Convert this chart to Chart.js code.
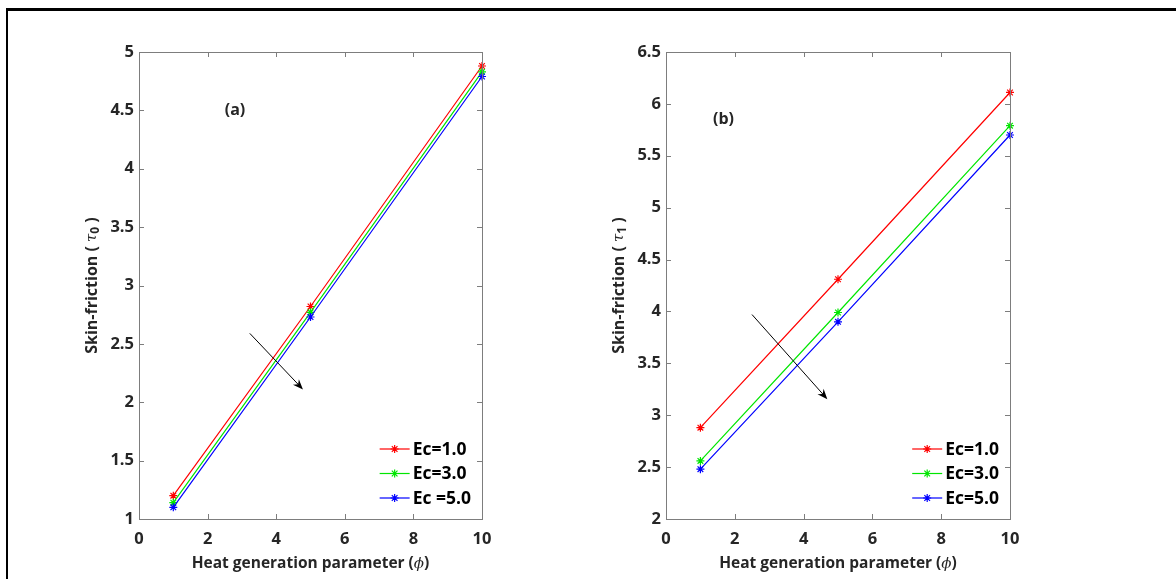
<!DOCTYPE html>
<html>
<head>
<meta charset="utf-8">
<script src="https://cdn.jsdelivr.net/npm/chart.js@4.4.1/dist/chart.umd.min.js"></script>
<style>
html, body { margin: 0; padding: 0; background: #fff; overflow: hidden; }
#frame { position: absolute; left: 6px; top: 8px; width: 2000px; height: 2000px; border-left: 2px solid #000; border-top: 3px solid #000; }
#chartA { position: absolute; left: 0; top: 0; }
#chartB { position: absolute; left: 588px; top: 0; }
</style>
</head>
<body>
<div id="frame"></div>
<canvas id="chartA" width="588" height="579"></canvas>
<canvas id="chartB" width="588" height="579"></canvas>
<script>
// heat generation parameter (x values)
const phi = [1, 5, 10];
const xTicks = [0, 2, 4, 6, 8, 10];

// panel (a): skin-friction tau0
const labelsA = ['Ec=1.0', 'Ec=3.0', 'Ec =5.0'];
const tau0Ec1 = [1.20, 2.82, 4.88];
const tau0Ec3 = [1.14, 2.77, 4.83];
const tau0Ec5 = [1.10, 2.73, 4.79];

// panel (b): skin-friction tau1
const labelsB = ['Ec=1.0', 'Ec=3.0', 'Ec=5.0'];
const tau1Ec1 = [2.88, 4.31, 6.11];
const tau1Ec3 = [2.56, 3.99, 5.79];
const tau1Ec5 = [2.48, 3.90, 5.70];

const colors = ['#ff0000', '#00e600', '#0000ff'];
const FONT = '"Open Sans", "Noto Sans", sans-serif';
const AXIS = '#7d7d7d';
const TXT = '#262626';

function star(ctx, x, y, r) {
    ctx.beginPath();
    for (let i = 0; i < 4; i++) {
        const a = i * Math.PI / 4;
        ctx.moveTo(x - r * Math.cos(a), y - r * Math.sin(a));
        ctx.lineTo(x + r * Math.cos(a), y + r * Math.sin(a));
    }
    ctx.stroke();
}

// draw text made of pieces with different fonts, centred on x
function drawRich(ctx, parts, x, y) {
    let total = 0;
    parts.forEach(p => { ctx.font = p[1]; total += ctx.measureText(p[0]).width; });
    let cx = x - total / 2;
    ctx.textAlign = 'left';
    ctx.textBaseline = 'middle';
    parts.forEach(p => {
        ctx.font = p[1];
        ctx.fillText(p[0], cx, y + (p[2] || 0));
        cx += ctx.measureText(p[0]).width;
    });
}

const decor = {
    id: 'decor',
    afterDraw(chart, args, opts) {
        const {ctx, chartArea: ca, scales: {x, y}} = chart;
        ctx.save();

        // box with inward ticks
        ctx.strokeStyle = AXIS;
        ctx.lineWidth = 1;
        ctx.strokeRect(ca.left + 0.5, ca.top + 0.5, ca.right - ca.left, ca.bottom - ca.top);
        ctx.beginPath();
        x.ticks.forEach(t => {
            const px = Math.round(x.getPixelForValue(t.value)) + 0.5;
            ctx.moveTo(px, ca.bottom); ctx.lineTo(px, ca.bottom - 5);
            ctx.moveTo(px, ca.top); ctx.lineTo(px, ca.top + 5);
        });
        y.ticks.forEach(t => {
            const py = Math.round(y.getPixelForValue(t.value)) + 0.5;
            ctx.moveTo(ca.left, py); ctx.lineTo(ca.left + 5, py);
            ctx.moveTo(ca.right, py); ctx.lineTo(ca.right - 5, py);
        });
        ctx.stroke();

        // axis titles
        ctx.fillStyle = TXT;
        drawRich(ctx, [
            ['Heat generation parameter (', 'bold 15.5px ' + FONT],
            ['\u03D5', 'italic 15px "DejaVu Serif", serif'],
            [')', 'bold 15.5px ' + FONT]
        ], (ca.left + ca.right) / 2, 564);

        ctx.save();
        ctx.translate(ca.left - 47, (ca.top + ca.bottom) / 2);
        ctx.rotate(-Math.PI / 2);
        drawRich(ctx, [
            ['Skin-friction ( ', 'bold 16px ' + FONT],
            ['\u03C4', 'italic 15px "DejaVu Serif", serif'],
            [opts.sub, 'bold 12px ' + FONT, 4],
            [' )', 'bold 16px ' + FONT]
        ], 0, 0);
        ctx.restore();

        // panel label
        ctx.font = 'bold 16px ' + FONT;
        ctx.textAlign = 'center';
        ctx.textBaseline = 'middle';
        ctx.fillText(opts.tag.text, x.getPixelForValue(opts.tag.x), y.getPixelForValue(opts.tag.y));

        // arrow
        const [ax0, ay0, ax1, ay1] = opts.arrow;
        const x0 = x.getPixelForValue(ax0), y0 = y.getPixelForValue(ay0);
        const x1 = x.getPixelForValue(ax1), y1 = y.getPixelForValue(ay1);
        const ang = Math.atan2(y1 - y0, x1 - x0);
        ctx.strokeStyle = '#000';
        ctx.fillStyle = '#000';
        ctx.lineWidth = 1;
        ctx.beginPath();
        ctx.moveTo(x0, y0);
        ctx.lineTo(x1 - 6 * Math.cos(ang), y1 - 6 * Math.sin(ang));
        ctx.stroke();
        ctx.beginPath();
        ctx.moveTo(x1, y1);
        ctx.lineTo(x1 - 11 * Math.cos(ang - 0.38), y1 - 11 * Math.sin(ang - 0.38));
        ctx.lineTo(x1 - 7 * Math.cos(ang), y1 - 7 * Math.sin(ang));
        ctx.lineTo(x1 - 11 * Math.cos(ang + 0.38), y1 - 11 * Math.sin(ang + 0.38));
        ctx.closePath();
        ctx.fill();

        // legend inside the axes, bottom right
        ctx.font = 'bold 17.5px ' + FONT;
        const names = opts.names;
        const w = Math.max(...names.map(n => ctx.measureText(n).width));
        const tx = ca.right - 11 - w;
        names.forEach((n, i) => {
            const ly = ca.bottom - 70 + i * 24.5;
            const c = chart.data.datasets[i].borderColor;
            ctx.strokeStyle = c;
            ctx.lineWidth = 1.2;
            ctx.beginPath();
            ctx.moveTo(tx - 33, ly); ctx.lineTo(tx - 3, ly);
            ctx.stroke();
            star(ctx, tx - 18, ly, 4);
            ctx.fillStyle = '#000';
            ctx.textAlign = 'left';
            ctx.textBaseline = 'middle';
            ctx.fillText(n, tx, ly + 1);
        });
        ctx.restore();
    }
};

function makeChart(id, series, names, yMin, yMax, yWidth, padRight, extra) {
    return new Chart(document.getElementById(id), {
        type: 'line',
        data: {
            datasets: series.map((s, i) => ({
                label: names[i],
                data: phi.map((p, j) => ({x: p, y: s[j]})),
                borderColor: colors[i],
                backgroundColor: colors[i],
                borderWidth: 1.2,
                pointStyle: 'star',
                pointRadius: 4,
                pointBorderWidth: 1.2,
                pointBorderColor: colors[i],
                tension: 0,
                clip: false,
                order: 3 - i
            }))
        },
        options: {
            responsive: false,
            animation: false,
            layout: {padding: {top: 52, right: padRight, bottom: 0, left: 0}},
            plugins: {
                legend: {display: false},
                tooltip: {enabled: false},
                decor: Object.assign({names: names}, extra)
            },
            scales: {
                x: {
                    type: 'linear',
                    min: 0, max: 10,
                    afterBuildTicks: s => { s.ticks = xTicks.map(v => ({value: v})); },
                    afterFit: s => { s.height = 60; },
                    grid: {display: false, drawTicks: false},
                    border: {display: false},
                    ticks: {color: TXT, padding: 10, maxRotation: 0, font: {family: FONT, size: 16.5, weight: 'bold'}}
                },
                y: {
                    type: 'linear',
                    min: yMin, max: yMax,
                    afterFit: s => { s.width = yWidth; },
                    grid: {display: false, drawTicks: false},
                    border: {display: false},
                    ticks: {
                        color: TXT, padding: 5, stepSize: 0.5,
                        font: {family: FONT, size: 16.5, weight: 'bold'},
                        callback: v => String(Number(v))
                    }
                }
            }
        },
        plugins: [decor]
    });
}

makeChart('chartA', [tau0Ec1, tau0Ec3, tau0Ec5], labelsA, 1, 5, 139, 106, {
    sub: '0',
    tag: {text: '(a)', x: 2.8, y: 4.5},
    arrow: [3.23, 2.59, 4.78, 2.11]
});

makeChart('chartB', [tau1Ec1, tau1Ec3, tau1Ec5], labelsB, 2, 6.5, 78, 166, {
    sub: '1',
    tag: {text: '(b)', x: 1.67, y: 5.85},
    arrow: [2.5, 3.97, 4.69, 3.155]
});
</script>
</body>
</html>
